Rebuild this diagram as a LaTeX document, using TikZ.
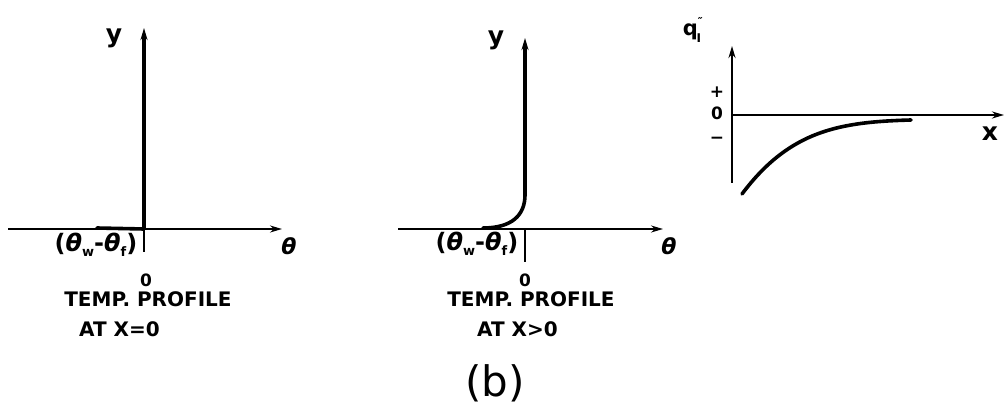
\documentclass[tikz,border=0pt]{standalone}
\usepackage{fontspec}
\setmainfont{DejaVu Sans}
\usetikzlibrary{arrows.meta}
\begin{document}
\begin{tikzpicture}[x=1pt,y=-1pt,
  thinaxis/.style={line width=1.8pt,-{Stealth[length=12pt,width=7pt]}},
  thickaxis/.style={line width=3.2pt,-{Stealth[length=12pt,width=7pt]}},
  plain/.style={line width=1.8pt},
  profile/.style={line width=3.6pt,line cap=round},
  lbl/.style={font=\fontsize{20}{22}\selectfont\bfseries,inner sep=0pt},
  small/.style={font=\fontsize{17}{18}\selectfont\bfseries,inner sep=0pt},
  big/.style={font=\fontsize{25}{26}\selectfont\bfseries,inner sep=0pt},
  theta/.style={font=\fontsize{22}{24}\selectfont\bfseries\itshape,inner sep=0pt}]
\useasboundingbox (0,0) rectangle (1004,411);
\newcommand{\dtheta}{(\textit{θ}\raisebox{-5pt}{\fontsize{13}{13}\selectfont w}-\textit{θ}\raisebox{-5pt}{\fontsize{13}{13}\selectfont f})}
% ---------- panel 1 ----------
\coordinate (o1) at (144,229);
\coordinate (l1) at (8,229);
\coordinate (r1) at (282,229);
\coordinate (t1) at (144,28);
\coordinate (b1) at (144,252);
\coordinate (s1) at (97,228);
\draw[thinaxis] (l1) -- (r1);
\draw[plain] (b1) -- (o1);
\draw[thickaxis] (o1) -- (t1);
\draw[profile] (s1) -- (o1);
\node[big] (y1) at (114,38) {y};
\node[theta] (th1) at (289,246) {θ};
\node[font=\fontsize{24}{26}\selectfont\bfseries,inner sep=0pt] (d1) at (96,245) {\dtheta};
\node[small] (z1) at (146,280) {0};
\node[lbl] (tp1) at (148,299) {TEMP. PROFILE};
\node[lbl,anchor=west] (at1) at (79,329) {AT X=0};
% ---------- panel 2 ----------
\coordinate (o2) at (525,229);
\coordinate (l2) at (398,229);
\coordinate (r2) at (663,229);
\coordinate (t2) at (525,38);
\coordinate (b2) at (525,262);
\coordinate (s2) at (483,228);
\coordinate (k2) at (525,195);
\draw[thinaxis] (l2) -- (r2);
\draw[plain] (b2) -- (o2);
\draw[thickaxis] (k2) -- (t2);
\draw[profile] (s2) .. controls (512,228) and (525,215) .. (k2);
\node[big] (y2) at (496,40) {y};
\node[theta] (th2) at (669,246) {θ};
\node[font=\fontsize{24}{26}\selectfont\bfseries,inner sep=0pt] (d2) at (477,244) {\dtheta};
\node[small] (z2) at (525,280) {0};
\node[lbl] (tp2) at (531,299) {TEMP. PROFILE};
\node[lbl,anchor=west] (at2) at (477,329) {AT X>0};
% ---------- panel 3 ----------
\coordinate (o3) at (732,115);
\coordinate (t3) at (732,46);
\coordinate (b3) at (732,183);
\coordinate (r3) at (1004,115);
\coordinate (c0) at (742,194);
\coordinate (c1) at (911,120);
\draw[thinaxis,line width=2.6pt] (b3) -- (t3);
\draw[thinaxis,line width=2.4pt] (o3) -- (r3);
\draw[profile] (c0) .. controls (790,130) and (840,122) .. (c1);
\node[font=\fontsize{21}{22}\selectfont\bfseries,inner sep=0pt] (q3) at (692,30) {q\raisebox{10pt}{\fontsize{11}{11}\selectfont ″}\kern-6pt\raisebox{-7pt}{\fontsize{12}{12}\selectfont I}};
\node[small] (p3) at (717,92) {+};
\node[small] (z3) at (717,113) {0};
\node[small] (m3) at (717,140) {−};
\node[big] (x3) at (990,134) {x};
% ---------- caption ----------
\node[font=\fontsize{42}{44}\selectfont,inner sep=0pt] (cap) at (495,383) {(b)};
\end{tikzpicture}
\end{document}
